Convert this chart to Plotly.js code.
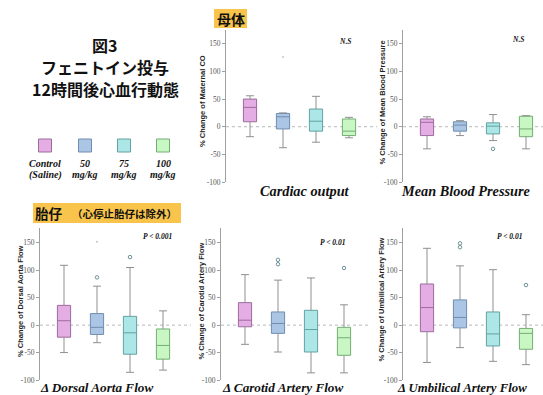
<!DOCTYPE html>
<html>
<head>
<meta charset="utf-8">
<script src="https://cdn.plot.ly/plotly-3.0.1.min.js"></script>
<style>html,body{margin:0;padding:0;background:#fff;}#chart{width:543px;height:395px;}</style>
</head>
<body>
<div id="chart"></div>
<script>
// ---------------- DATA ----------------
const categories = ['Control (Saline)', '50 mg/kg', '75 mg/kg', '100 mg/kg'];
const legendLabels = ['Control<br>(Saline)', '50<br>mg/kg', '75<br>mg/kg', '100<br>mg/kg'];
const yTickVals = [-100, -50, 0, 50, 100, 150];

// Cardiac output (maternal)
const cardiacLower  = [-18, -38, -28, -20];
const cardiacQ1     = [9, -4, -8, -16];
const cardiacMedian = [35, 18, 10, -8];
const cardiacQ3     = [50, 24, 32, 14];
const cardiacUpper  = [56, 25, 55, 17];
const cardiacOutGroup = [];
const cardiacOutValue = [];
const cardiacFaintGroup = [1];
const cardiacFaintValue = [126];

// Mean blood pressure (maternal)
const mbpLower  = [-40, -16, -25, -40];
const mbpQ1     = [-16, -8, -13, -18];
const mbpMedian = [8, 3, 1, -4];
const mbpQ3     = [14, 9, 7, 19];
const mbpUpper  = [18, 11, 22, 20];
const mbpOutGroup = [2];
const mbpOutValue = [-40];
const mbpFaintGroup = [];
const mbpFaintValue = [];

// Dorsal aorta flow (fetal)
const dorsalLower  = [-50, -32, -86, -82];
const dorsalQ1     = [-22, -17, -53, -62];
const dorsalMedian = [8, -4, -14, -37];
const dorsalQ3     = [36, 21, 16, -7];
const dorsalUpper  = [109, 71, 105, 26];
const dorsalOutGroup = [1, 2];
const dorsalOutValue = [87, 124];
const dorsalFaintGroup = [1];
const dorsalFaintValue = [152];

// Carotid artery flow (fetal)
const carotidLower  = [-35, -49, -87, -87];
const carotidQ1     = [-3, -15, -49, -55];
const carotidMedian = [9, 3, -8, -23];
const carotidQ3     = [41, 24, 27, -4];
const carotidUpper  = [92, 82, 86, 37];
const carotidOutGroup = [1, 1, 3];
const carotidOutValue = [119, 111, 104];
const carotidFaintGroup = [];
const carotidFaintValue = [];

// Umbilical artery flow (fetal)
const umbLower  = [-68, -41, -66, -72];
const umbQ1     = [-12, -5, -38, -44];
const umbMedian = [32, 14, -16, -15];
const umbQ3     = [75, 46, 24, -6];
const umbUpper  = [140, 108, 101, 19];
const umbOutGroup = [1, 1, 3];
const umbOutValue = [149, 142, 73];
const umbFaintGroup = [];
const umbFaintValue = [];

// ---------------- STYLE ----------------
const fills = ['#e4aee4', '#abc5e4', '#ace6e6', '#c9f7c3'];
const strokes = ['#9c6c9c', '#6f8db2', '#62a2a2', '#74ad74'];
const SERIF = '"Liberation Serif", "Times New Roman", Times, serif';
const SANS = '"Liberation Sans", Arial, Helvetica, sans-serif';
const CJK = '"Noto Sans CJK JP", sans-serif';
const W = 543, H = 395;
const px = x => x / W;
const py = y => 1 - y / H;
const SPACING = 33, FIRST = 24;

const panels = [
  {ax: '', lower: cardiacLower, q1: cardiacQ1, med: cardiacMedian, q3: cardiacQ3, up: cardiacUpper,
   og: cardiacOutGroup, ov: cardiacOutValue, fg: cardiacFaintGroup, fv: cardiacFaintValue,
   dom: [226, 371], ydom: [30, 182], yr: [-100, 175]},
  {ax: '2', lower: mbpLower, q1: mbpQ1, med: mbpMedian, q3: mbpQ3, up: mbpUpper,
   og: mbpOutGroup, ov: mbpOutValue, fg: mbpFaintGroup, fv: mbpFaintValue,
   dom: [403, 543], ydom: [30, 182], yr: [-100, 175]},
  {ax: '3', lower: dorsalLower, q1: dorsalQ1, med: dorsalMedian, q3: dorsalQ3, up: dorsalUpper,
   og: dorsalOutGroup, ov: dorsalOutValue, fg: dorsalFaintGroup, fv: dorsalFaintValue,
   dom: [40, 185], ydom: [228, 380], yr: [-100, 177]},
  {ax: '4', lower: carotidLower, q1: carotidQ1, med: carotidMedian, q3: carotidQ3, up: carotidUpper,
   og: carotidOutGroup, ov: carotidOutValue, fg: carotidFaintGroup, fv: carotidFaintValue,
   dom: [221, 365], ydom: [228, 380], yr: [-100, 177]},
  {ax: '5', lower: umbLower, q1: umbQ1, med: umbMedian, q3: umbQ3, up: umbUpper,
   og: umbOutGroup, ov: umbOutValue, fg: umbFaintGroup, fv: umbFaintValue,
   dom: [403, 543], ydom: [228, 380], yr: [-100, 177]}
];

const traces = [];
const layout = {
  width: W, height: H, margin: {l: 0, r: 0, t: 0, b: 0},
  paper_bgcolor: '#fff', plot_bgcolor: 'rgba(0,0,0,0)', showlegend: false,
  font: {family: SERIF},
  shapes: [], annotations: []
};

panels.forEach(p => {
  const xa = 'x' + p.ax, ya = 'y' + p.ax;
  const capW = 0.12;
  const wx = [], wy = [];
  categories.forEach((c, i) => {
    wx.push(i, i, null, i - capW, i + capW, null, i, i, null, i - capW, i + capW, null);
    wy.push(p.q3[i], p.up[i], null, p.up[i], p.up[i], null, p.q1[i], p.lower[i], null, p.lower[i], p.lower[i], null);
  });
  traces.push({type: 'scatter', mode: 'lines', x: wx, y: wy, xaxis: xa, yaxis: ya,
    line: {color: '#8f8f8f', width: 1}, hoverinfo: 'skip', connectgaps: false});
  categories.forEach((c, i) => {
    traces.push({type: 'box', name: c, x: [i], xaxis: xa, yaxis: ya,
      q1: [p.q1[i]], median: [p.med[i]], q3: [p.q3[i]],
      lowerfence: [p.q1[i]], upperfence: [p.q3[i]],
      width: 0.4, whiskerwidth: 0, boxpoints: false,
      fillcolor: fills[i], line: {color: strokes[i], width: 1}});
  });
  traces.push({type: 'scatter', mode: 'markers', x: p.og, y: p.ov, xaxis: xa, yaxis: ya,
    marker: {symbol: 'circle-open', size: 3.5, color: '#6f9098', line: {width: 1}}, hoverinfo: 'skip'});
  traces.push({type: 'scatter', mode: 'markers', x: p.fg, y: p.fv, xaxis: xa, yaxis: ya,
    marker: {symbol: 'circle', size: 2, color: '#c4c4c4'}, hoverinfo: 'skip'});

  const wpx = p.dom[1] - p.dom[0];
  const x0 = -FIRST / SPACING;
  layout['xaxis' + p.ax] = {domain: [px(p.dom[0]), px(p.dom[1])], range: [x0, x0 + wpx / SPACING],
    visible: false, anchor: ya};
  layout['yaxis' + p.ax] = {domain: [py(p.ydom[1]), py(p.ydom[0])], range: p.yr, anchor: xa,
    tickvals: yTickVals, ticktext: yTickVals.map(String), showgrid: false, zeroline: false,
    showline: true, linecolor: '#a0a0a0', linewidth: 1, ticks: 'outside', ticklen: 3,
    tickcolor: '#a0a0a0', tickwidth: 1,
    tickfont: {family: SERIF, size: 7.5, color: '#555'}};
  layout.shapes.push({type: 'line', xref: 'paper', yref: ya, x0: px(p.dom[0]), x1: Math.min(1, px(p.dom[1] + 6)),
    y0: 0, y1: 0, line: {color: '#b8b8b8', width: 1, dash: 'dot'}, layer: 'below'});
});

layout.shapes.push({type: 'rect', xref: 'paper', yref: 'paper', x0: px(214), x1: px(247), y0: py(28), y1: py(9),
  fillcolor: '#f8c44c', line: {width: 0}, layer: 'below'});
layout.shapes.push({type: 'rect', xref: 'paper', yref: 'paper', x0: px(33), x1: px(181), y0: py(223), y1: py(203),
  fillcolor: '#f8c44c', line: {width: 0}, layer: 'below'});
const swX = [45, 85, 124, 163];
swX.forEach((x, i) => {
  layout.shapes.push({type: 'rect', xref: 'paper', yref: 'paper', x0: px(x - 6.5), x1: px(x + 6.5),
    y0: py(152), y1: py(139), fillcolor: fills[i], line: {color: strokes[i], width: 1}});
});

const A = layout.annotations;
const serifF = s => ({family: SERIF, size: s, color: '#111'});
function ann(text, x, y, font, extra) {
  A.push(Object.assign({text: text, xref: 'paper', yref: 'paper', x: px(x), y: py(y),
    showarrow: false, font: font, xanchor: 'center', yanchor: 'middle'}, extra || {}));
}
// header (three separate lines)
ann('<b>図3</b>', 104, 45, {family: CJK, size: 16, color: '#111'});
ann('<b>フェニトイン投与</b>', 105, 67, {family: CJK, size: 16, color: '#111'});
ann('<b>12時間後心血行動態</b>', 105, 89, {family: CJK, size: 16, color: '#111'});
// legend labels
legendLabels.forEach((t, i) => {
  const parts = t.split('<br>');
  ann('<b><i>' + parts[0] + '</i></b>', swX[i], 163, serifF(10));
  ann('<b><i>' + parts[1] + '</i></b>', swX[i], 175, serifF(10));
});
// section labels
ann('<b>母体</b>', 230.5, 18.5, {family: CJK, size: 14, color: '#111'});
ann('<b>胎仔</b>', 49, 213, {family: CJK, size: 13.5, color: '#111'});
ann('<b>（心停止胎仔は除外）</b>', 124, 213.5, {family: CJK, size: 10.5, color: '#111'});
// panel titles
ann('<b><i>Cardiac output</i></b>', 305, 191, serifF(14.3));
ann('<b><i>Mean Blood Pressure</i></b>', 466, 191, serifF(14.3));
ann('<b><i>Δ Dorsal Aorta Flow</i></b>', 96, 387.5, serifF(13.2));
ann('<b><i>Δ Carotid Artery Flow</i></b>', 282, 387.5, serifF(13.2));
ann('<b><i>Δ Umbilical Artery Flow</i></b>', 462, 387.5, serifF(12.8));
// y titles
const sansB = {family: SANS, size: 7.5, color: '#222'};
ann('<b>% Change of Maternal CO</b>', 202, 101, sansB, {textangle: -90});
ann('<b>% Change of Mean Blood Pressure</b>', 381.5, 103, sansB, {textangle: -90});
ann('<b>% Change of Dorsal Aorta Flow</b>', 20, 301, sansB, {textangle: -90});
ann('<b>% Change of Carotid Artery Flow</b>', 200.5, 301, sansB, {textangle: -90});
ann('<b>% Change of Umbilical Artery Flow</b>', 380.5, 300, sansB, {textangle: -90});
// significance
ann('<b><i>N.S</i></b>', 345, 41, serifF(7.5));
ann('<b><i>N.S</i></b>', 518, 40, serifF(7.5));
ann('<b><i>P &lt; 0.001</i></b>', 157, 236, serifF(7.5));
ann('<b><i>P &lt; 0.01</i></b>', 332, 243, serifF(7.5));
ann('<b><i>P &lt; 0.01</i></b>', 509, 236, serifF(7.5));

Plotly.newPlot('chart', traces, layout, {staticPlot: true, displayModeBar: false});
</script>
</body>
</html>
